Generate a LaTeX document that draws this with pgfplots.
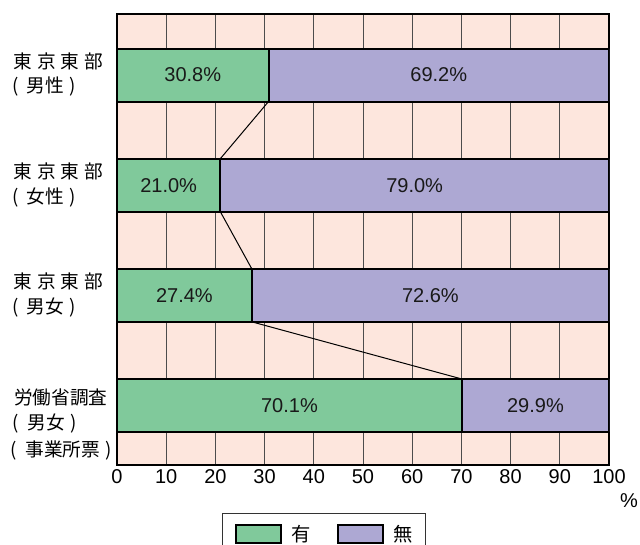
\documentclass[border=0pt]{standalone}
\usepackage{fontspec}
\setmainfont{Liberation Sans}
\newfontfamily\jp{Noto Sans CJK JP}
\usepackage{pgfplots}
\pgfplotsset{compat=1.18}
\definecolor{cgreen}{RGB}{128,201,155}
\definecolor{cpurple}{RGB}{173,168,211}
\definecolor{cpeach}{RGB}{253,230,221}
\pgfplotsset{
  mylegend/.style={legend image code/.code={\draw[##1, line width=1.5pt] (0pt,-6.75pt) rectangle (33.75pt,6.75pt);}},
  commonaxis/.style={
    at={(87.75pt,60pt)}, anchor=south west,
    scale only axis, width=369pt, height=338.25pt,
    xmin=0, xmax=100, ymin=-0.54, ymax=3.554,
  }
}
\newcommand{\pp}[1]{(\hspace{0.45em}#1\hspace{0.3em})}
\newcommand{\tk}{東\hspace{0.26em}京\hspace{0.26em}東\hspace{0.26em}部}
\begin{document}
\begin{tikzpicture}
\useasboundingbox (0,0) rectangle (480pt,408.75pt);
\begin{axis}[
  commonaxis,
  xbar stacked, bar width=0.481,
  xtick={0,10,...,100}, ytick=\empty,
  xmajorgrids, grid style={black!70, line width=0.75pt},
  major tick length=0pt,
  axis line style={line width=2pt},
  axis background/.style={fill=cpeach},
  /pgf/number format/assume math mode=true,
  xticklabel style={font=\fontsize{15}{18}\selectfont},
  legend columns=2,
  legend style={at={(0.4207,-0.106)}, anchor=north, draw=black!80, line width=0.75pt,
    font=\jp\fontsize{14.5}{16}\selectfont, inner xsep=9.5pt, inner ysep=3pt,
    /tikz/every even column/.append style={column sep=20pt},
    nodes={inner xsep=0pt, inner ysep=6pt}},
]
\addplot[fill=cgreen, draw=black, line width=1.5pt, mylegend] coordinates {(30.8,3) (21.0,2) (27.4,1) (70.1,0)};
\addplot[fill=cpurple, draw=black, line width=1.5pt, mylegend] coordinates {(69.2,3) (79.0,2) (72.6,1) (29.9,0)};
\legend{\hspace{7pt}有,\hspace{7pt}無}
\end{axis}
\begin{axis}[commonaxis, hide axis, clip=false]
\addplot[black, line width=0.75pt] coordinates {(30.8,2.7595) (21.0,2.2405)};
\addplot[black, line width=0.75pt] coordinates {(21.0,1.7595) (27.4,1.2405)};
\addplot[black, line width=0.75pt] coordinates {(27.4,0.7595) (70.1,0.2405)};
\addplot[draw=none, mark=none, nodes near coords, point meta=explicit symbolic,
  every node near coord/.append style={anchor=center, font=\fontsize{15}{18}\selectfont, text=black!90}]
  coordinates {(15.4,3) [30.8\%] (65.4,3) [69.2\%] (10.5,2) [21.0\%] (60.5,2) [79.0\%]
               (13.7,1) [27.4\%] (63.7,1) [72.6\%] (35.05,0) [70.1\%] (85.05,0) [29.9\%]};
\end{axis}
\begin{scope}[every node/.style={anchor=west, align=left, inner sep=0pt, font=\jp\fontsize{14}{19}\selectfont}]
\node at (10pt,352.9pt) {\tk\\[-0.5pt]\hspace{-1pt}\pp{男性}};
\node at (10pt,270pt) {\tk\\[-0.5pt]\hspace{-1pt}\pp{女性}};
\node at (10pt,187.5pt) {\tk\\[-0.5pt]\hspace{-1pt}\pp{男女}};
\node at (8pt,90.75pt) {\hspace{2.5pt}労働省調査\\\hspace{1.5pt}\pp{男女}\\[1pt]\pp{事業所票}};
\end{scope}
\node[font=\fontsize{15}{18}\selectfont, inner sep=0pt] at (471.75pt,33pt) {\%};
\end{tikzpicture}
\end{document}
